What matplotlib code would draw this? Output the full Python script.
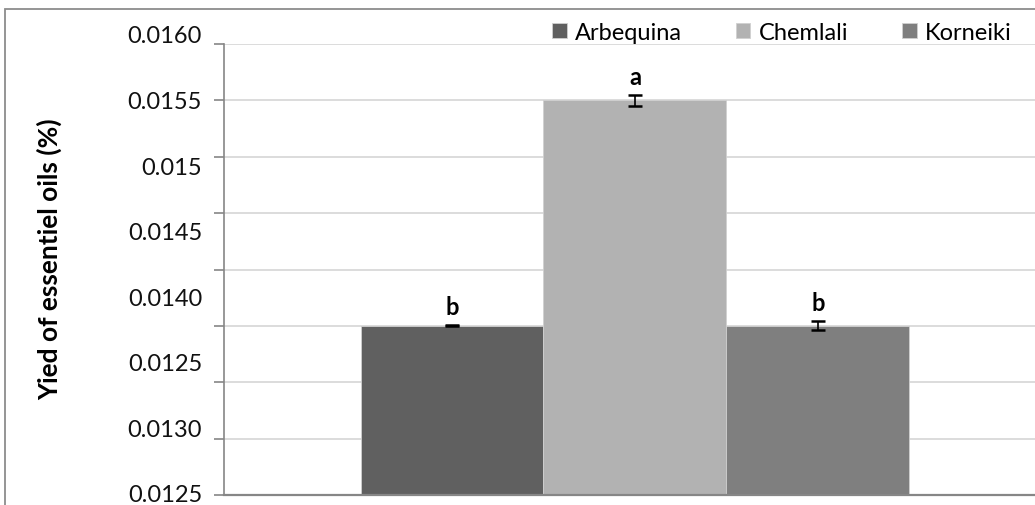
import numpy as np
import matplotlib
matplotlib.use("Agg")
import matplotlib.pyplot as plt
from matplotlib.patches import Rectangle

plt.rcParams['font.family'] = ['Lato', 'DejaVu Sans']

# data
cultivars = ['Arbequina', 'Chemlali', 'Korneiki']
yield_oil = [0.0140, 0.0160, 0.0140]
yield_err = [0.000005, 0.00005, 0.00004]
letters = ['b', 'a', 'b']
colors = ['#606060', '#b2b2b2', '#7f7f7f']
# tick labels as printed on the original (top to bottom)
tick_labels = ['0.0160', '0.0155', '0.015', '0.0145', '0.0140', '0.0125', '0.0130', '0.0125']
grid_values = np.arange(0.0125, 0.01651, 0.0005)

W, H = 1035, 506
fig = plt.figure(figsize=(W / 100, H / 100), dpi=100)

# chart border like the excel frame
fig.patches.append(Rectangle((5 / W, -0.1), 1.2, 1.1 - 10 / H, transform=fig.transFigure,
                             fill=False, edgecolor='#8c8c8c', linewidth=1.3))

ax = fig.add_axes([224 / W, 10 / H, (W - 224) / W, (496 - 45) / H])

x = np.arange(len(cultivars)) - 1
for i in range(len(cultivars)):
    ax.bar(x[i], yield_oil[i], width=1.0, color=colors[i], edgecolor='#d0d0d0', linewidth=0.6,
           label=cultivars[i], zorder=2)
    ax.errorbar(x[i], yield_oil[i], yerr=yield_err[i], color='black', capsize=5, capthick=1.8,
                elinewidth=1.2, zorder=3)
    ax.annotate(letters[i], (x[i], yield_oil[i] + yield_err[i]), xytext=(0, 5),
                textcoords='offset points', ha='center', va='bottom', fontsize=17,
                fontweight='bold', zorder=4)

ax.set_ylim(0.0125, 0.0165)
ax.set_xlim(-2.246, 2.186)
ax.set_yticks(grid_values)
ax.set_yticklabels([''] * len(grid_values))
ax.set_xticks([])
ax.tick_params(axis='y', direction='out', length=7, width=1.2, color='#868686')
ax.grid(axis='y', color='#d9d9d9', linewidth=1.3, zorder=0)
ax.set_axisbelow(True)
for s in ['top', 'right']:
    ax.spines[s].set_visible(False)
ax.spines['left'].set_color('#868686')
ax.spines['left'].set_linewidth(1.2)
ax.spines['bottom'].set_color('#868686')
ax.spines['bottom'].set_linewidth(1.6)

# printed tick labels, evenly spaced as in the original
label_pos = np.linspace(1.018, 0, len(tick_labels))
for lab, yp in zip(tick_labels, label_pos):
    ax.text(-0.027, yp, lab, transform=ax.transAxes, ha='right', va='center',
            fontsize=17, color='#111111', clip_on=False)

fig.text(50 / W, 1 - 259 / H, 'Yied of essentiel oils (%)', rotation=90, ha='center',
         va='center', fontsize=19, fontweight='bold')

ax.legend(loc='center', bbox_to_anchor=(782 / W, 1 - 33 / H), bbox_transform=fig.transFigure,
          ncol=3, frameon=False, fontsize=17, handlelength=0.6, handleheight=0.6,
          handletextpad=0.35, columnspacing=2.3)

fig.savefig('out.png', dpi=100)
